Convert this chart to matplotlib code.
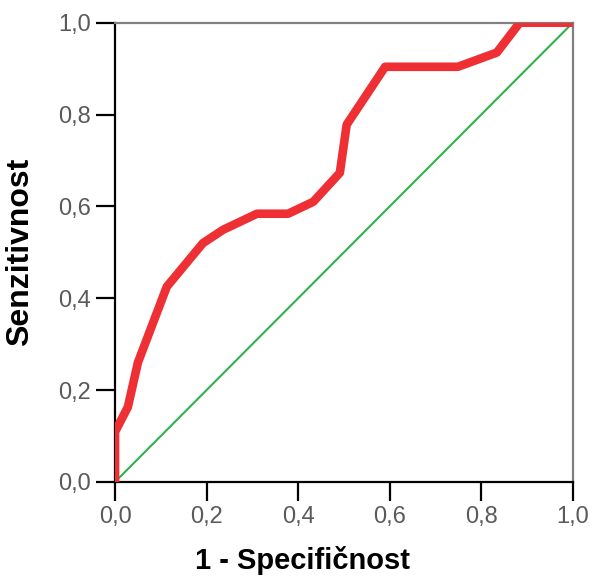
import matplotlib.pyplot as plt

# ROC curve points
fpr = [0.0, 0.0, 0.028, 0.05, 0.113, 0.192, 0.236, 0.31, 0.378, 0.433, 0.491, 0.506,
       0.59, 0.749, 0.834, 0.884, 1.0]
tpr = [0.0, 0.109, 0.163, 0.26, 0.425, 0.52, 0.549, 0.584, 0.584, 0.61, 0.673, 0.778,
       0.904, 0.904, 0.935, 1.0, 1.0]
ref = [0.0, 1.0]
ticks = [0.0, 0.2, 0.4, 0.6, 0.8, 1.0]
tick_labels = ["0,0", "0,2", "0,4", "0,6", "0,8", "1,0"]

plt.rcParams['font.family'] = ['Liberation Sans', 'DejaVu Sans']

fig = plt.figure(figsize=(5.93, 5.82), dpi=100)
ax = fig.add_axes([0.194, 0.172, 0.772, 0.789])

ax.plot(ref, ref, color='#2eb34a', linewidth=1.5, zorder=2)
ax.plot(fpr, tpr, color='#ee3035', linewidth=6.2, solid_joinstyle='round', zorder=3)

ax.set_xlim(0, 1)
ax.set_ylim(0, 1)
ax.set_xticks(ticks)
ax.set_yticks(ticks)
ax.set_xticklabels(tick_labels)
ax.set_yticklabels(tick_labels)
ax.tick_params(length=14, width=1.6, color='black', labelsize=17, labelcolor='#5a5a5a', pad=3.5)

for side in ['left', 'bottom']:
    ax.spines[side].set_color('black')
    ax.spines[side].set_linewidth(1.6)
for side in ['top', 'right']:
    ax.spines[side].set_color('#808080')
    ax.spines[side].set_linewidth(1.6)

fig.text(0.51, 0.012, "1 - Specifičnost", fontsize=21, fontweight='bold',
         ha='center', va='bottom')
ax.set_ylabel("Senzitivnost", fontsize=23, fontweight='bold')
ax.yaxis.set_label_coords(-0.174, 0.5)

plt.savefig("out.png", dpi=100)
